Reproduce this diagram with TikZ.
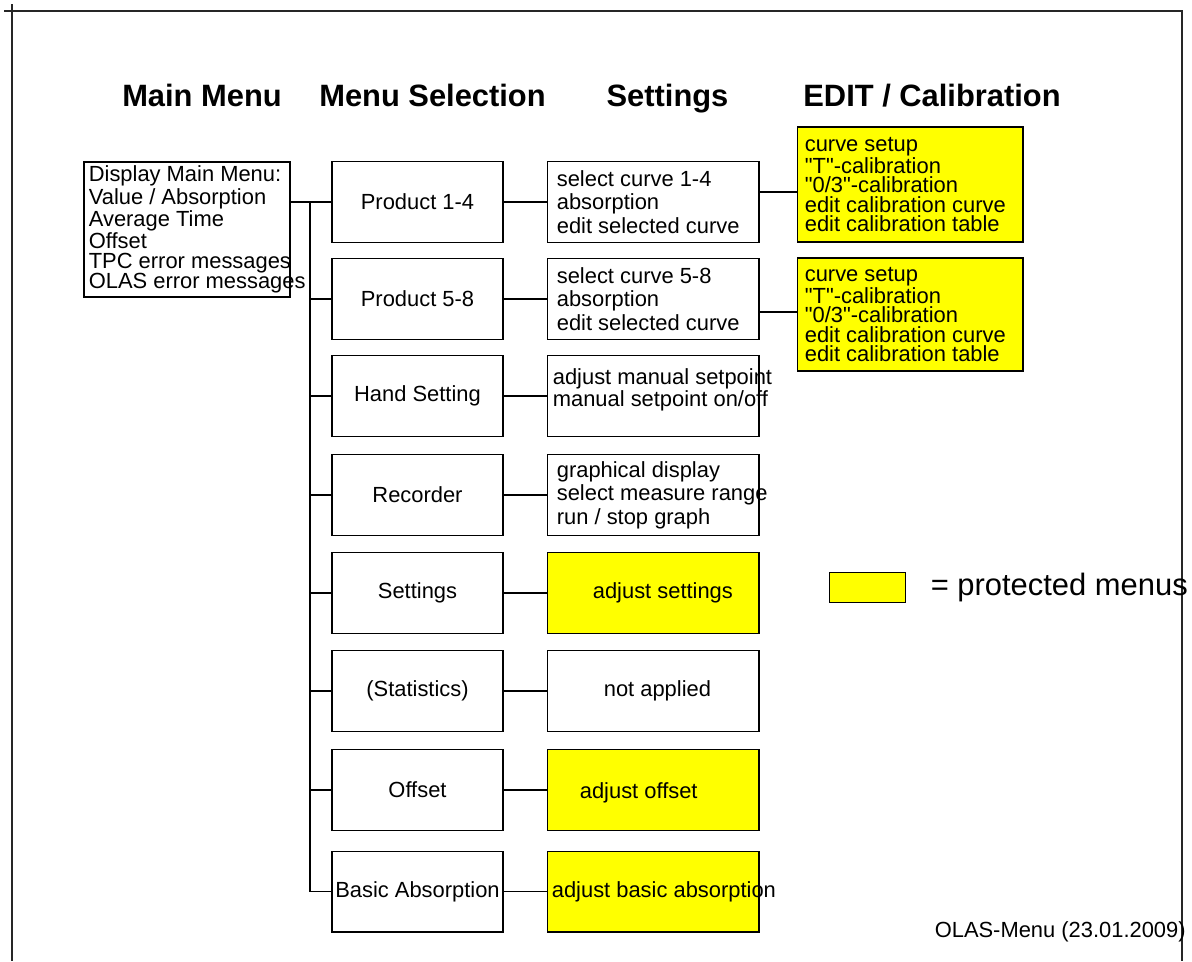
\documentclass[tikz,border=0pt]{standalone}
\usepackage{fontspec}
\setmainfont{Liberation Sans}
\usetikzlibrary{positioning}
\definecolor{protyellow}{RGB}{255,255,0}
\newcommand{\boxfont}{\fontsize{12.47}{11.34}\selectfont}
\newcommand{\setfont}{\fontsize{12.47}{13.32}\selectfont}
\newcommand{\editfont}{\fontsize{12.47}{11.06}\selectfont}
\newcommand{\headfont}{\fontsize{17.57}{20}\selectfont\bfseries}
\newcommand{\keyfont}{\fontsize{17.6}{19}\selectfont}
\newcommand{\qq}{\textquotedbl}
\tikzset{
  frameln/.style={line width=0.8pt,black!85},
  conn/.style={line width=0.6pt},
  head/.style={font=\headfont,anchor=base,inner sep=0pt},
  mainbox/.style={draw,line width=0.6pt,minimum width=4.12cm,minimum height=2.7cm,inner sep=0pt},
  menubox/.style={draw,line width=0.6pt,minimum width=3.42cm,minimum height=1.62cm,inner sep=0pt,font=\boxfont},
  setbox/.style={draw,line width=0.6pt,minimum width=4.24cm,minimum height=1.62cm,inner sep=0pt},
  prot/.style={fill=protyellow},
  editbox/.style={draw,fill=protyellow,line width=0.6pt,minimum width=4.52cm,minimum height=2.3cm,inner sep=0pt},
  boxtxt/.style={anchor=west,inner sep=0pt,align=left},
}
\begin{document}
\begin{tikzpicture}[x=0.02cm,y=-0.02cm]
  \useasboundingbox (0,0) rectangle (1192,961);
  % page frame
  \draw[frameln] (4,11) -- (1182,11) -- (1182,961);
  \draw[frameln] (12,4) -- (12,961);
  % column heads
  \node[head] (hmain) at (202,106) {Main Menu};
  \node[head] (hsel)  at (432.5,106) {Menu Selection};
  \node[head] (hset)  at (667.5,106) {Settings};
  \node[head] (hedit) at (932,106) {EDIT / Calibration};
  % main menu
  \node[mainbox] (main) at (187,229.5) {};
  \node[boxtxt,font=\boxfont] (maintxt) at ([xshift=0.1cm]main.west)
    {Display Main Menu:\\Value / Absorption\\Average Time\\Offset\\TPC error messages\\OLAS error messages};
  % menu selection and settings boxes
  \foreach \n/\y/\t/\s in {1/202/Product 1-4/, 2/299/Product 5-8/, 3/396/Hand Setting/,
      4/495/Recorder/, 5/593/Settings/prot, 6/691/(Statistics)/, 7/790/Offset/prot,
      8/891.5/Basic Absorption/prot}{
    \node[menubox] (m\n) at (417.5,\y) {\t};
    \node[setbox,\s] (s\n) at (653,\y) {};
  }
  \node[boxtxt,font=\setfont] (st1) at ([xshift=0.2cm]s1.west) {select curve 1-4\\absorption\\edit selected curve};
  \node[boxtxt,font=\setfont] (st2) at ([xshift=0.2cm]s2.west) {select curve 5-8\\absorption\\edit selected curve};
  \node[boxtxt,font=\boxfont] (st3) at ([xshift=0.12cm,yshift=0.12cm]s3.west) {adjust manual setpoint\\manual setpoint on/off};
  \node[boxtxt,font=\setfont] (st4) at ([xshift=0.2cm]s4.west) {graphical display\\select measure range\\run / stop graph};
  \node[boxtxt,font=\boxfont] (st5) at ([xshift=0.92cm]s5.west) {adjust settings};
  \node[boxtxt,font=\boxfont] (st6) at ([xshift=1.14cm]s6.west) {not applied};
  \node[boxtxt,font=\boxfont] (st7) at ([xshift=0.66cm,yshift=-0.06cm]s7.west) {adjust offset};
  \node[boxtxt,font=\boxfont] (st8) at ([xshift=0.1cm]s8.west) {adjust basic absorption};
  % edit / calibration
  \node[editbox] (e1) at (910,184.5) {};
  \node[editbox,minimum height=2.26cm] (e2) at (910,314.5) {};
  \foreach \n in {1,2}
    \node[boxtxt,font=\editfont] (et\n) at ([xshift=0.16cm]e\n.west)
      {curve setup\\\qq T\qq-calibration\\\qq 0/3\qq-calibration\\edit calibration curve\\edit calibration table};
  % connectors
  \coordinate (trunk) at (310,0);
  \coordinate (k1) at (0,192);
  \coordinate (k2) at (0,312);
  \draw[conn] (main.east |- m1.west) -- (m1.west);
  \draw[conn] (trunk |- m1.west) -- (trunk |- m8.west) -- (m8.west);
  \foreach \n in {2,...,7}
    \draw[conn] (trunk |- m\n.west) -- (m\n.west);
  \foreach \n in {1,...,8}
    \draw[conn] (m\n.east) -- (s\n.west |- m\n.east);
  \draw[conn] (s1.east |- k1) -- (e1.west |- k1);
  \draw[conn] (s2.east |- k2) -- (e2.west |- k2);
  % legend and footer
  \node[draw,fill=protyellow,line width=0.5pt,minimum width=1.52cm,minimum height=0.6cm,inner sep=0pt] (key) at (867,587) {};
  \node[anchor=west,inner sep=0pt,font=\keyfont] (keytxt) at ([xshift=0.5cm]key.east) {= protected menus};
  \node[anchor=east,inner sep=0pt,font=\boxfont] (foot) at (1186,932) {OLAS-Menu (23.01.2009)};
\end{tikzpicture}
\end{document}
